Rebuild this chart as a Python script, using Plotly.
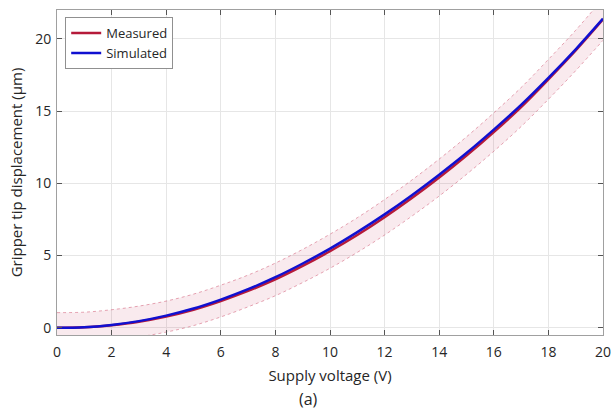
import plotly.graph_objects as go

voltage = list(range(0, 21))
measured = [0, 0.03, 0.18, 0.42, 0.78, 1.25, 1.85, 2.55, 3.35, 4.28, 5.3, 6.42, 7.65,
            8.98, 10.4, 11.92, 13.55, 15.28, 17.2, 19.2, 21.35]
simulated = [0, 0.04, 0.2, 0.46, 0.84, 1.33, 1.95, 2.67, 3.5, 4.45, 5.48, 6.62, 7.85,
             9.18, 10.6, 12.1, 13.72, 15.43, 17.3, 19.28, 21.4]
band_upper = [1.05, 1.08, 1.25, 1.5, 1.85, 2.33, 2.95, 3.65, 4.48, 5.43, 6.48, 7.62, 8.88,
              10.23, 11.68, 13.22, 14.88, 16.63, 18.58, 20.6, 22.8]
band_lower = [-1.05, -1.02, -0.87, -0.63, -0.3, 0.15, 0.75, 1.45, 2.22, 3.13, 4.12, 5.22,
              6.42, 7.73, 9.12, 10.62, 12.22, 13.93, 15.82, 17.8, 19.9]

FONT = "Open Sans"
fig = go.Figure()
fig.add_trace(go.Scatter(x=voltage, y=band_upper, mode="lines", showlegend=False,
                         line=dict(color="rgba(200,60,90,0.45)", width=1, dash="dot", shape="spline"),
                         hoverinfo="skip"))
fig.add_trace(go.Scatter(x=voltage, y=band_lower, mode="lines", showlegend=False,
                         fill="tonexty", fillcolor="rgba(200,60,100,0.11)",
                         line=dict(color="rgba(200,60,90,0.45)", width=1, dash="dot", shape="spline"),
                         hoverinfo="skip"))
fig.add_trace(go.Scatter(x=voltage, y=measured, mode="lines", name="Measured",
                         line=dict(color="#b51a3a", width=2.5, shape="spline")))
fig.add_trace(go.Scatter(x=voltage, y=simulated, mode="lines", name="Simulated",
                         line=dict(color="#1010d0", width=2.5, shape="spline")))

axis_common = dict(showline=True, linecolor="#a0a0a0", linewidth=1, mirror="ticks",
                   ticks="inside", ticklen=5, tickcolor="#555555",
                   showgrid=True, gridcolor="#e6e6e6", gridwidth=1, zeroline=False,
                   automargin=False,
                   tickfont=dict(family=FONT, size=14, color="#262626"))

fig.update_layout(
    width=613, height=412,
    margin=dict(l=57, r=10, t=10, b=77),
    plot_bgcolor="white", paper_bgcolor="white",
    xaxis=dict(range=[0, 20], tickvals=list(range(0, 21, 2)), ticklabelstandoff=4,
               title=dict(text="Supply voltage (V)", standoff=10,
                          font=dict(family=FONT, size=15, color="#262626")),
               **axis_common),
    yaxis=dict(range=[-0.5, 22], tickvals=[0, 5, 10, 15, 20], ticklabelstandoff=2,
               title=dict(text="Gripper tip displacement (μm)", standoff=8,
                          font=dict(family=FONT, size=15, color="#262626")),
               **axis_common),
    legend=dict(x=0.015, y=0.978, xanchor="left", yanchor="top",
                traceorder="normal",
                bgcolor="white", bordercolor="#909090", borderwidth=1,
                font=dict(family=FONT, size=13, color="#262626"),
                tracegroupgap=0, itemwidth=30),
    annotations=[dict(text="(a)", x=0.46, y=-0.158, xref="paper", yref="paper",
                      showarrow=False, yanchor="top",
                      font=dict(family=FONT, size=16, color="#262626"))],
)

fig.write_html("out.html", config={"displayModeBar": False},
               post_script="document.body.style.margin='0px';document.body.style.overflow='hidden';")
